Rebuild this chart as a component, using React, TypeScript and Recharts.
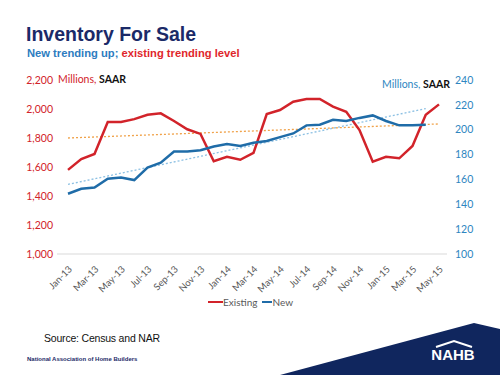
import { LineChart, Line, XAxis, YAxis } from "recharts";

const months = [
  "Jan-13", "Feb-13", "Mar-13", "Apr-13", "May-13", "Jun-13", "Jul-13", "Aug-13", "Sep-13", "Oct-13", "Nov-13", "Dec-13",
  "Jan-14", "Feb-14", "Mar-14", "Apr-14", "May-14", "Jun-14", "Jul-14", "Aug-14", "Sep-14", "Oct-14", "Nov-14", "Dec-14",
  "Jan-15", "Feb-15", "Mar-15", "Apr-15", "May-15",
];

// existing homes for sale (left axis)
const existing = [
  1580, 1655, 1690, 1910, 1910, 1930, 1960, 1970, 1917, 1860, 1828, 1640,
  1670, 1650, 1697, 1965, 1993, 2050, 2069, 2069, 2016, 1981, 1855, 1637,
  1670, 1660, 1745, 1960, 2032,
];

// new homes for sale (right axis)
const newHomes = [
  148.5, 152.5, 153.5, 160.5, 161.5, 159.5, 169.5, 173.5, 182.5, 182.5, 183.5, 186.5,
  188.5, 187, 189.5, 191, 194, 197, 203.5, 204, 208, 207, 209.5, 211.5,
  207, 203.5, 203.5, 204, null,
];

// trend line end points
const existingTrend = [1800, ...Array(27).fill(null), 1897];
const newTrend = [156, ...Array(26).fill(null), 217, null];

const leftTicks = [1000, 1200, 1400, 1600, 1800, 2000, 2200];
const rightTicks = [100, 120, 140, 160, 180, 200, 220, 240];

const RED = "#d2232a";
const BLUE = "#1f6ca8";
const FONT = "Lato, 'Open Sans', sans-serif";

const data = months.map((m, i) => ({
  month: m,
  existing: existing[i],
  newHomes: newHomes[i],
  existingTrend: existingTrend[i],
  newTrend: newTrend[i],
}));

export default function App() {
  return (
    <div
      style={{
        position: "absolute",
        left: 0,
        top: 0,
        width: 500,
        height: 375,
        background: "#fff",
        overflow: "hidden",
        fontFamily: "'Liberation Sans', Arial, sans-serif",
      }}
    >
      <div style={{ position: "absolute", left: 26, top: 23, fontSize: 19.5, fontWeight: 700, color: "#1b2a68" }}>
        Inventory For Sale
      </div>
      <div style={{ position: "absolute", left: 27, top: 47, fontSize: 11.2, fontWeight: 700 }}>
        <span style={{ color: "#2d7cc0" }}>New trending up; </span>
        <span style={{ color: "#e0262b" }}>existing trending level</span>
      </div>

      <LineChart width={500} height={375} data={data} margin={{ top: 80, right: 0, bottom: 0, left: 0 }}>
        <XAxis
          dataKey="month"
          interval={1}
          height={121}
          padding={{ left: 11, right: 8 }}
          tickLine={false}
          axisLine={{ stroke: "#d9d9d9" }}
          tick={{ fontSize: 9.5, fill: "#595959", fontFamily: FONT, angle: -45, textAnchor: "end", dy: 3 }}
        />
        <YAxis
          yAxisId="left"
          domain={[1000, 2200]}
          ticks={leftTicks}
          width={57}
          tickSize={0}
          tickMargin={4}
          axisLine={false}
          tickFormatter={(v: number) => v.toLocaleString("en-US")}
          tick={{ fontSize: 10.5, fill: RED, fontFamily: FONT }}
        />
        <YAxis
          yAxisId="right"
          orientation="right"
          domain={[100, 240]}
          ticks={rightTicks}
          width={53}
          tickSize={0}
          tickMargin={8}
          axisLine={false}
          tick={{ fontSize: 10.5, fill: "#2e86c1", fontFamily: FONT, textAnchor: "start" }}
        />
        <Line
          yAxisId="left"
          dataKey="existingTrend"
          stroke="#f0a24a"
          strokeWidth={1.3}
          strokeDasharray="2 2"
          dot={false}
          connectNulls
          isAnimationActive={false}
        />
        <Line
          yAxisId="right"
          dataKey="newTrend"
          stroke="#8cc0e3"
          strokeWidth={1.3}
          strokeDasharray="2 2"
          dot={false}
          connectNulls
          isAnimationActive={false}
        />
        <Line yAxisId="left" dataKey="existing" stroke={RED} strokeWidth={2.5} dot={false} isAnimationActive={false} />
        <Line yAxisId="right" dataKey="newHomes" stroke={BLUE} strokeWidth={2.5} dot={false} isAnimationActive={false} />
      </LineChart>

      <div style={{ position: "absolute", left: 58, top: 73, fontSize: 10.5, fontFamily: FONT }}>
        <span style={{ color: RED }}>Millions, </span>
        <span style={{ color: "#111", fontWeight: 700 }}>SAAR</span>
      </div>
      <div style={{ position: "absolute", left: 382, top: 78, fontSize: 10.5, fontFamily: FONT }}>
        <span style={{ color: "#2e86c1" }}>Millions, </span>
        <span style={{ color: "#111", fontWeight: 700 }}>SAAR</span>
      </div>

      {/* legend */}
      <div
        style={{
          position: "absolute",
          left: 208,
          top: 296,
          display: "flex",
          alignItems: "center",
          fontSize: 10,
          color: "#595959",
          fontFamily: FONT,
        }}
      >
        <span style={{ display: "inline-block", width: 15, height: 2.5, background: RED }} />
        <span style={{ marginRight: 5 }}>Existing</span>
        <span style={{ display: "inline-block", width: 10, height: 2.5, background: BLUE }} />
        <span>New</span>
      </div>

      <div style={{ position: "absolute", left: 44, top: 332, fontSize: 10.5, letterSpacing: -0.2, color: "#111" }}>
        Source: Census and NAR
      </div>
      <div style={{ position: "absolute", left: 27, top: 356, fontSize: 6, fontWeight: 700, color: "#1b2a68" }}>
        National Association of Home Builders
      </div>

      <svg width={500} height={375} style={{ position: "absolute", left: 0, top: 0 }}>
        <polygon points="280,375 474,323 500,329 500,375" fill="#10265e" />
        <polyline points="436,347 454,341 472,347" fill="none" stroke="#fff" strokeWidth={2} />
        <text x={453} y={360} textAnchor="middle" fill="#fff" fontSize={15} fontWeight={700} fontFamily="'Liberation Sans', Arial">
          NAHB
        </text>
      </svg>
    </div>
  );
}
